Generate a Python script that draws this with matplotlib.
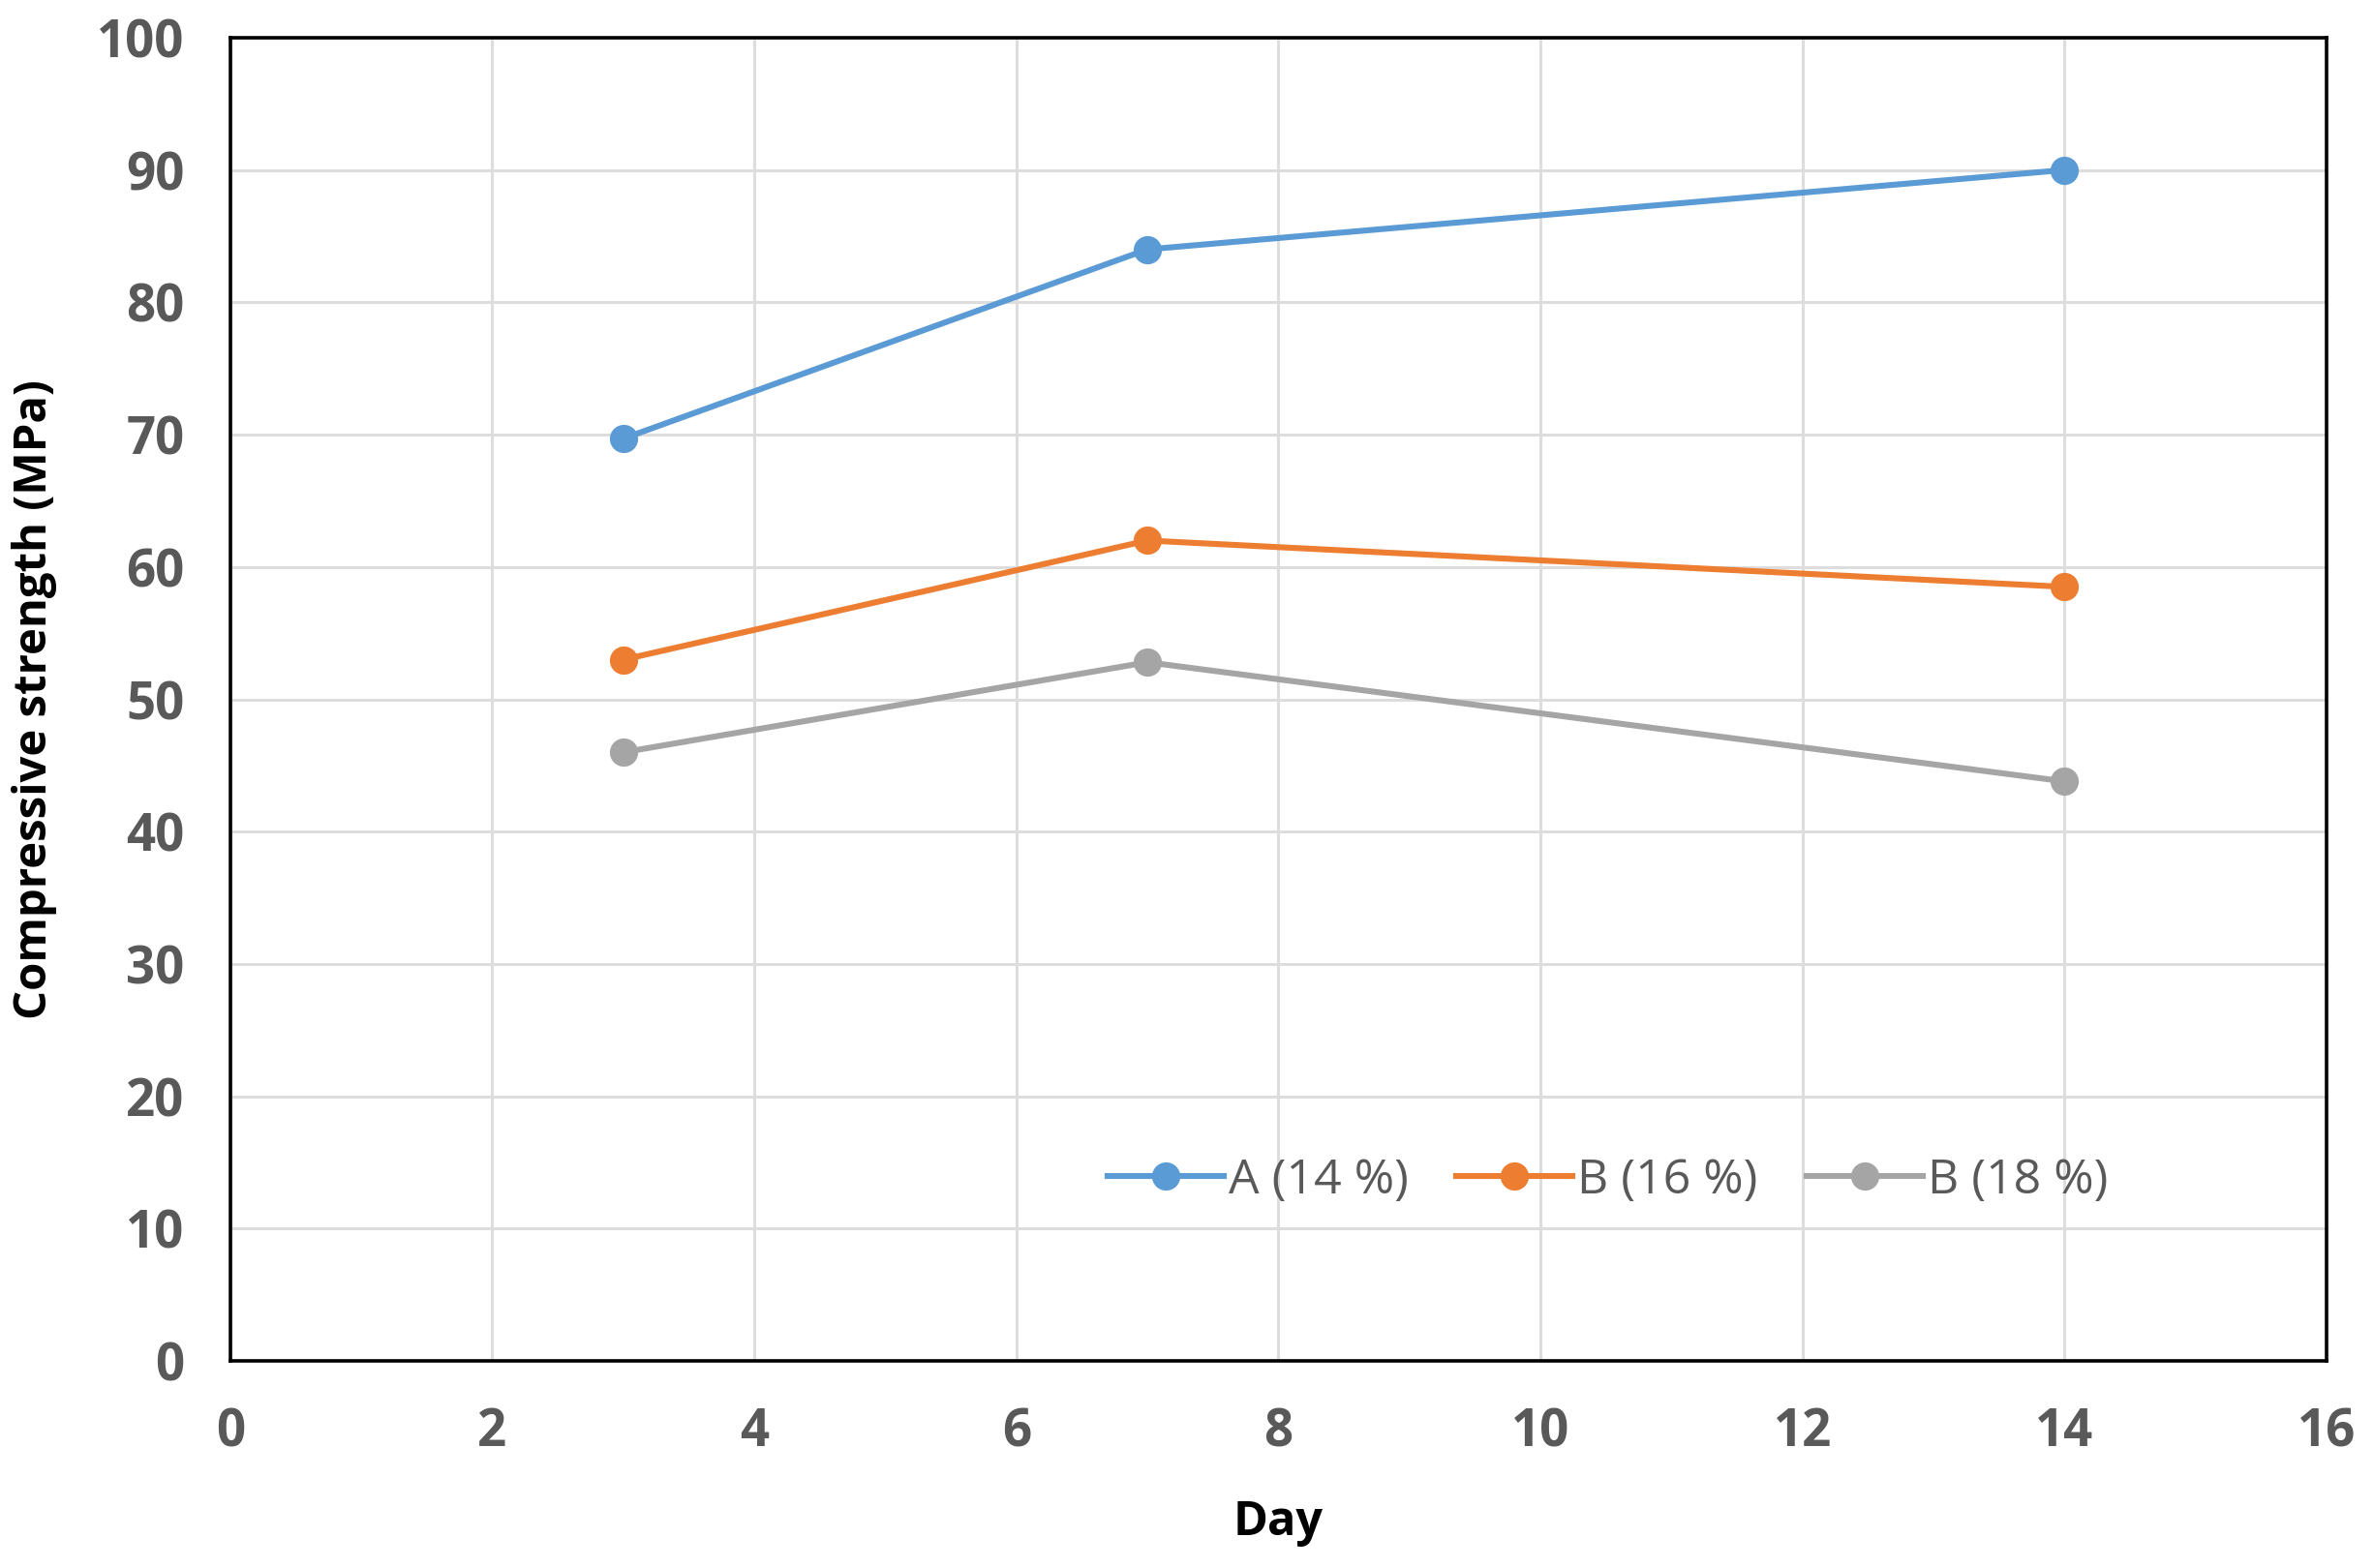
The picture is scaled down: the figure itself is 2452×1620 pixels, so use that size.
import matplotlib
matplotlib.use("Agg")
import matplotlib.pyplot as plt
from matplotlib import font_manager

fams = {f.name for f in font_manager.fontManager.ttflist}
base = 'Liberation Sans Narrow' if 'Liberation Sans Narrow' in fams else 'Open Sans'
plt.rcParams['font.family'] = [base, 'DejaVu Sans']

days = [3, 7, 14]
series_names = ['A (14 %)', 'B (16 %)', 'B (18 %)']
a14 = [69.7, 84.0, 90.0]
b16 = [53.0, 62.0, 58.5]
b18 = [46.0, 52.8, 43.8]
colors = ['#5B9BD5', '#ED7D31', '#A5A5A5']
xticks = [0, 2, 4, 6, 8, 10, 12, 14, 16]
yticks = [0, 10, 20, 30, 40, 50, 60, 70, 80, 90, 100]

fig = plt.figure(figsize=(12.26, 8.1), dpi=200)
ax = fig.add_axes([0.097, 0.132, 0.883, 0.844])

for vals, name, c in zip([a14, b16, b18], series_names, colors):
    ax.plot(days, vals, '-o', color=c, lw=2.2, ms=9.5, label=name, zorder=3)

ax.set_xlim(0, 16)
ax.set_ylim(0, 100)
ax.set_xticks(xticks)
ax.set_yticks(yticks)
ax.grid(True, color='#DDDDDD', lw=1.1, zorder=0)
ax.set_axisbelow(True)
ax.tick_params(length=0, labelsize=19, labelcolor='#595959', pad=17)
for lab in ax.get_xticklabels() + ax.get_yticklabels():
    lab.set_fontweight('bold')
for s in ax.spines.values():
    s.set_color('black')
    s.set_linewidth(1.3)

ax.set_xlabel('Day', fontsize=17.5, fontweight='bold', color='black', labelpad=15)
ax.set_ylabel('Compressive strength (MPa)', fontsize=17, fontweight='bold', color='black', labelpad=15)

leg = ax.legend(loc='center', bbox_to_anchor=(0.657, 0.136), ncol=3, frameon=False,
                fontsize=18, labelcolor='#595959', handlelength=2.4, handletextpad=0.1,
                columnspacing=1.0)

fig.savefig('out.png', dpi=200)
